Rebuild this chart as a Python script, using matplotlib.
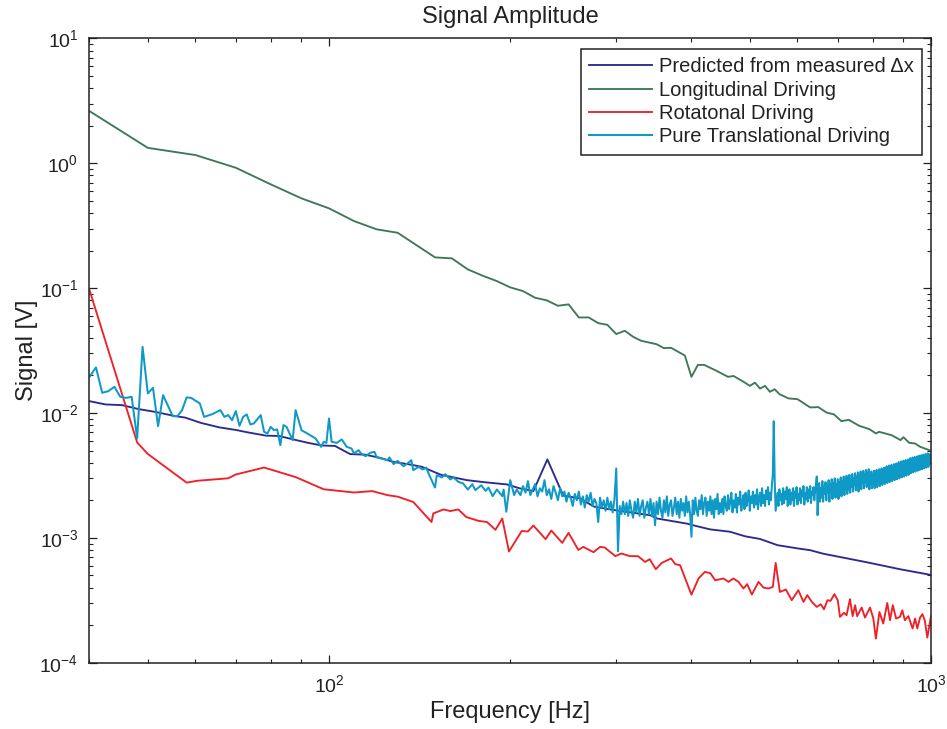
import numpy as np
import matplotlib
matplotlib.use("Agg")
import matplotlib.pyplot as plt
from matplotlib.ticker import LogLocator, LogFormatterSciNotation, NullFormatter

plt.rcParams['font.family'] = ['Liberation Sans', 'DejaVu Sans']
plt.rcParams['mathtext.default'] = 'regular'

# ---------------------------------------------------------------- data
# Predicted signal from the measured displacement
pred_f = [40, 42.5, 45.3, 48.3, 51.4, 55.5, 57.7, 61.2, 65.7, 69.9, 73.4, 78.6,
          82.6, 87.8, 92.3, 97.2, 102.3, 108.4, 114.8, 121.5, 127.9, 136.3,
          142.6, 153.5, 169.5, 181.5, 197.5, 207.6, 218.5, 230.5, 245, 261.2,
          275.5, 293, 341.4, 350.7, 393.3, 408.6, 429.5, 463.5, 491, 520, 556,
          602, 630, 662, 762, 792, 888, 1000]
pred_v = [0.01245, 0.01172, 0.01157, 0.01075, 0.01022, 0.00945, 0.00919,
          0.00835, 0.00768, 0.00733, 0.00699, 0.00659, 0.00655, 0.00610,
          0.00577, 0.00550, 0.00545, 0.00469, 0.00464, 0.00438, 0.00406,
          0.00387, 0.00371, 0.00320, 0.00290, 0.00279, 0.00268, 0.00249,
          0.00237, 0.00425, 0.00218, 0.00207, 0.00178, 0.00169, 0.00152,
          0.00143, 0.00130, 0.00124, 0.00117, 0.00112, 0.00103, 0.00098,
          0.000874, 0.000822, 0.000797, 0.000747, 0.000654, 0.000630,
          0.000561, 0.000505]

# Longitudinal driving
long_f = [40, 50, 60, 70, 80, 90, 100, 110, 120, 130, 150, 160, 170, 180, 190,
          200, 210, 220, 230, 240, 250, 260, 270, 280, 290, 300, 310, 320, 330,
          350, 360, 370, 390, 400, 410, 420, 440, 460, 470, 490, 500, 510, 520,
          530, 540, 550, 560, 580, 600, 630, 650, 670, 690, 710, 730, 760, 790,
          810, 820, 860, 890, 900, 920, 940, 960, 1000]
long_v = [2.62, 1.33, 1.165, 0.922, 0.679, 0.524, 0.436, 0.345, 0.296, 0.278,
          0.1765, 0.1733, 0.1415, 0.1258, 0.114, 0.1015, 0.0948, 0.0838,
          0.0799, 0.0723, 0.0742, 0.0583, 0.0583, 0.0525, 0.0509, 0.0429,
          0.0456, 0.0408, 0.0379, 0.0356, 0.0331, 0.0333, 0.0289, 0.0195,
          0.0243, 0.0243, 0.0218, 0.0195, 0.0198, 0.0176, 0.0165, 0.0175,
          0.0157, 0.0165, 0.0148, 0.0155, 0.01417, 0.01309, 0.01292, 0.01109,
          0.01115, 0.01011, 0.00975, 0.00861, 0.00882, 0.00790, 0.00743,
          0.00686, 0.00707, 0.00665, 0.00607, 0.00641, 0.00577, 0.00571,
          0.00536, 0.00498]

# Rotational driving
rot_f = [40, 48, 50, 58, 60.5, 68, 70, 78, 88, 98, 110, 118, 125, 130, 138,
         148, 149, 155, 159, 164, 169, 177, 183, 189, 194, 199, 209, 214, 218.5,
         229, 234, 244, 250, 259.5, 264.5, 275, 282, 287, 299, 306, 316, 326,
         335, 341, 349, 357, 370, 376, 383, 400, 411, 421, 430, 438, 452, 461,
         469.5, 479, 488, 495, 504, 517, 527, 537, 546, 552, 561, 574, 587, 602,
         614, 623, 634, 646, 656, 664, 673, 681, 691, 700, 706, 717, 724, 733.5,
         741, 748, 754, 767, 777, 792, 802, 810, 821, 833, 846, 855, 864, 875,
         888, 896, 905, 917, 932, 941, 949, 959, 968, 977, 986, 1000]
rot_v = [0.0966, 0.00581, 0.00470, 0.00277, 0.00287, 0.00300, 0.00322, 0.00366,
         0.00307, 0.00245, 0.00231, 0.00237, 0.00220, 0.00214, 0.00194,
         0.00134, 0.00157, 0.00169, 0.00164, 0.00169, 0.00147, 0.00137,
         0.00134, 0.00116, 0.00143, 0.000778, 0.001136, 0.001125, 0.001257,
         0.000976, 0.001146, 0.000912, 0.001097, 0.000801, 0.000847, 0.000768,
         0.000847, 0.000838, 0.000714, 0.000750, 0.000714, 0.000714, 0.000642,
         0.000675, 0.000561, 0.000630, 0.000684, 0.000616, 0.000604, 0.000351,
         0.000473, 0.000534, 0.000521, 0.000458, 0.000473, 0.000444, 0.000473,
         0.000444, 0.000393, 0.000426, 0.000352, 0.000444, 0.000400, 0.000393,
         0.000405, 0.000630, 0.000369, 0.000386, 0.000317, 0.000381, 0.000307,
         0.000348, 0.000307, 0.000280, 0.000294, 0.000268, 0.000317, 0.000313,
         0.000354, 0.000317, 0.000233, 0.000251, 0.000240, 0.000323, 0.000236,
         0.000289, 0.000236, 0.000277, 0.000230, 0.000277, 0.000226, 0.000156,
         0.000255, 0.000206, 0.000301, 0.000219, 0.000289, 0.000226, 0.000233,
         0.000263, 0.000219, 0.000236, 0.000188, 0.000226, 0.000188, 0.000230,
         0.000245, 0.000216, 0.000159, 0.000236]

# Pure translational driving: low-frequency part (Hz, V)
trans_lo_f = [40, 41, 42, 43, 44, 45, 46, 47, 48, 49, 50, 51, 52, 53, 55, 56, 57,
              58, 59, 61, 62, 64, 66, 67, 68, 69, 70, 71, 72, 73, 74, 75, 77, 78,
              79, 80, 81, 82, 83, 84, 85, 87, 88, 90, 92, 95, 97, 98, 99, 100,
              101, 103, 105, 107, 109, 110, 112, 113, 115, 117, 119, 120, 122,
              125, 126, 128, 130, 133, 135, 137, 138, 141, 143, 145, 147, 150,
              151, 154, 156, 159, 161, 164, 167, 170, 173, 175, 179, 182, 184,
              187, 190, 194, 195, 197, 200, 203, 205, 208]
trans_lo_v = [0.0195, 0.0232, 0.01452, 0.01498, 0.01622, 0.01349, 0.01323,
              0.01349, 0.00626, 0.0339, 0.01436, 0.01592, 0.00785, 0.01391,
              0.00944, 0.00944, 0.01055, 0.01334, 0.01323, 0.01194, 0.00932,
              0.00980, 0.01055, 0.00932, 0.00962, 0.00877, 0.01036, 0.00790,
              0.00932, 0.00975, 0.00810, 0.00825, 0.00962, 0.00707, 0.00686,
              0.00775, 0.00729, 0.00739, 0.00553, 0.00800, 0.00775, 0.00607,
              0.01055, 0.00729, 0.00686, 0.00626, 0.00536, 0.00588, 0.00577,
              0.00905, 0.00588, 0.00577, 0.00614, 0.00536, 0.00520, 0.00475,
              0.00504, 0.00475, 0.00451, 0.00480, 0.00489, 0.00441, 0.00433,
              0.00419, 0.00441, 0.00390, 0.00414, 0.00375, 0.00395, 0.00419,
              0.00349, 0.00371, 0.00353, 0.00366, 0.00312, 0.00253, 0.00318,
              0.00305, 0.00324, 0.00294, 0.00305, 0.00281, 0.00273, 0.00244,
              0.00269, 0.00241, 0.00264, 0.00238, 0.00253, 0.00216, 0.00244,
              0.00216, 0.00244, 0.00162, 0.00290, 0.00220, 0.00244, 0.00220]

# Pure translational driving: 2 Hz spectrum bins from 210 Hz to 1 kHz (mV)
trans_hi_f = np.arange(210, 1001, 2)
trans_hi_mv = [
    2.6, 2.3, 2.85, 2.2, 2.45, 2.7, 2.15, 2.5, 2.35, 2.9,        # 210-228
    2.2, 2.45, 2.05, 2.6, 2.3, 2.0, 2.5, 2.15, 2.35, 1.95,       # 230-248
    2.3, 2.1, 1.8, 2.25, 2.0, 2.35, 1.85, 2.15, 1.75, 2.2,       # 250-268
    1.95, 2.3, 1.8, 2.05, 1.9, 1.34, 2.1, 1.75, 2.0, 1.65,       # 270-288
    2.1, 1.7, 1.95, 1.6, 2.05, 3.6, 0.78, 1.8, 1.55, 1.95,       # 290-308
    1.55, 1.9, 1.5, 2.0, 1.65, 1.45, 1.95, 1.6, 2.05, 1.5,       # 310-328
    1.8, 2.0, 1.45, 1.75, 1.95, 1.55, 2.05, 1.5, 1.9, 1.26,      # 330-348
    1.95, 1.55, 2.1, 1.65, 1.45, 2.0, 1.6, 2.15, 1.5, 1.85,      # 350-368
    2.0, 1.5, 1.75, 2.1, 1.55, 1.95, 1.45, 2.05, 1.65, 1.9,      # 370-388
    1.5, 2.15, 1.6, 1.95, 1.55, 1.02, 2.0, 1.55, 2.1, 1.65,      # 390-408
    1.5, 2.0, 1.7, 2.2, 1.55, 1.9, 2.1, 1.5, 1.95, 1.65,         # 410-428
    2.15, 1.55, 2.0, 1.45, 2.05, 1.7, 2.25, 1.55, 1.9, 1.6,      # 430-448
    2.05, 1.55, 2.15, 1.8, 1.65, 2.2, 1.7, 1.95, 2.3, 1.6,       # 450-468
    2.0, 1.75, 2.25, 1.6, 2.1, 1.85, 2.35, 1.65, 1.95, 2.2,      # 470-488
    1.7, 2.3, 1.8, 2.05, 2.4, 1.65, 2.15, 1.9, 2.35, 1.75,       # 490-508
    2.2, 1.85, 2.45, 1.7, 2.1, 2.3, 1.8, 2.5, 1.9, 2.2,          # 510-528
    1.8, 2.4, 2.05, 2.55, 1.85, 2.3, 2.0, 2.6, 3.2, 8.6,         # 530-548
    2.9, 1.65, 1.95, 2.3, 1.8, 2.45, 2.0, 2.25, 1.85, 2.5,       # 550-568
    1.9, 2.35, 2.05, 2.55, 1.8, 2.2, 2.45, 1.85, 2.3, 2.0,       # 570-588
    2.5, 1.8, 2.35, 2.1, 2.55, 1.85, 2.25, 2.0, 2.5, 1.9,        # 590-608
    2.4, 2.15, 2.6, 1.85, 2.3, 2.05, 2.55, 1.95, 2.45, 2.1,      # 610-628
    2.6, 1.9, 2.35, 2.2, 2.55, 2.0, 2.4, 2.65, 3.1, 1.52,        # 630-648
    2.2, 2.75, 1.95, 2.5, 2.1, 2.85, 1.95, 2.6, 2.25, 2.8,       # 650-668
    2.0, 2.65, 2.3, 2.9, 1.95, 2.7, 2.35, 2.95, 2.05, 2.75,      # 670-688
    2.4, 3.0, 2.1, 2.7, 2.3, 2.95, 2.05, 2.8, 2.45, 3.05,        # 690-708
    2.15, 2.85, 2.35, 3.1, 2.2, 2.75, 2.5, 3.15, 2.25, 2.9,      # 710-728
    2.45, 3.2, 2.3, 2.95, 2.55, 3.25, 2.35, 3.0, 2.65, 3.3,      # 730-748
    2.4, 3.1, 2.6, 3.35, 2.35, 3.15, 2.7, 3.4, 2.45, 3.2,        # 750-768
    2.75, 3.45, 2.5, 3.25, 2.8, 3.5, 2.55, 3.3, 2.85, 3.55,      # 770-788
    2.45, 3.15, 2.7, 3.4, 2.5, 3.2, 2.75, 3.45, 2.5, 3.3,        # 790-808
    2.75, 3.5, 2.55, 3.3, 2.85, 3.55, 2.6, 3.4, 2.9, 3.6,        # 810-828
    2.65, 3.45, 2.9, 3.65, 2.7, 3.5, 3.0, 3.75, 2.75, 3.55,      # 830-848
    3.0, 3.8, 2.8, 3.65, 3.1, 3.85, 2.85, 3.7, 3.15, 3.9,        # 850-868
    2.9, 3.75, 3.2, 3.95, 2.95, 3.8, 3.25, 4.05, 3.0, 3.85,      # 870-888
    3.3, 4.1, 3.05, 3.9, 3.35, 4.15, 3.1, 4.0, 3.4, 4.2,         # 890-908
    3.15, 4.05, 3.5, 4.25, 3.2, 4.1, 3.55, 4.35, 3.3, 4.15,      # 910-928
    3.6, 4.4, 3.35, 4.2, 3.65, 4.45, 3.4, 4.3, 3.7, 4.5,         # 930-948
    3.45, 4.35, 3.75, 4.55, 3.5, 4.4, 3.8, 4.6, 3.55, 4.45,      # 950-968
    3.85, 4.65, 3.6, 4.5, 3.9, 4.7, 3.65, 4.55, 3.95, 4.75,      # 970-988
    3.7, 4.6, 4.0, 4.7, 3.9, 4.45,                               # 990-1000
]

trans_f = np.concatenate([trans_lo_f, trans_hi_f])
trans_v = np.concatenate([trans_lo_v, np.array(trans_hi_mv) * 1e-3])

labels = ["Predicted from measured \u0394x", "Longitudinal Driving",
          "Rotatonal Driving", "Pure Translational Driving"]
colors = ["#2d2b8c", "#3e7858", "#ee2128", "#0f99c6"]

# ---------------------------------------------------------------- figure
fig = plt.figure(figsize=(9.47, 7.29), dpi=100)
ax = fig.add_axes([0.0945, 0.0909, 0.8886, 0.8563])

lw = 1.35
ax.plot(pred_f, pred_v, color=colors[0], lw=lw, label=labels[0])
ax.plot(long_f, long_v, color=colors[1], lw=lw, label=labels[1])
ax.plot(rot_f, rot_v, color=colors[2], lw=lw, label=labels[2])
ax.plot(trans_f, trans_v, color=colors[3], lw=1.45, label=labels[3])

ax.set_xscale('log')
ax.set_yscale('log')
ax.set_xlim(40, 1000)
ax.set_ylim(1e-4, 10)

for axis in (ax.xaxis, ax.yaxis):
    axis.set_major_locator(LogLocator(base=10, numticks=12))
    axis.set_minor_locator(LogLocator(base=10, subs=np.arange(2, 10), numticks=12))
    axis.set_major_formatter(LogFormatterSciNotation())
    axis.set_minor_formatter(NullFormatter())

ax.tick_params(which='both', direction='in', top=True, right=True,
               colors='#222222', labelcolor='#222222', labelsize=14)
ax.tick_params(which='major', length=5.5, width=0.9)
ax.tick_params(which='minor', length=3, width=0.8)
ax.tick_params(axis='x', pad=8)
ax.tick_params(axis='y', pad=8)
for s in ax.spines.values():
    s.set_linewidth(1.1)
    s.set_color('#222222')

ax.set_title("Signal Amplitude", fontsize=17, pad=11, color='#222222')
ax.set_xlabel("Frequency [Hz]", fontsize=17, labelpad=4, color='#222222')
ax.set_ylabel("Signal [V]", fontsize=17, labelpad=1, color='#222222')

leg = ax.legend(loc='upper left', bbox_to_anchor=(0.584, 0.9837),
                borderaxespad=0, fontsize=14.5, frameon=True, fancybox=False,
                edgecolor='#222222', framealpha=1, handlelength=3.1,
                handletextpad=0.35, labelspacing=0.22, borderpad=0.42)
leg.get_frame().set_linewidth(1.1)
for t in leg.get_texts():
    t.set_color('#222222')

fig.savefig("out.png", dpi=100)
